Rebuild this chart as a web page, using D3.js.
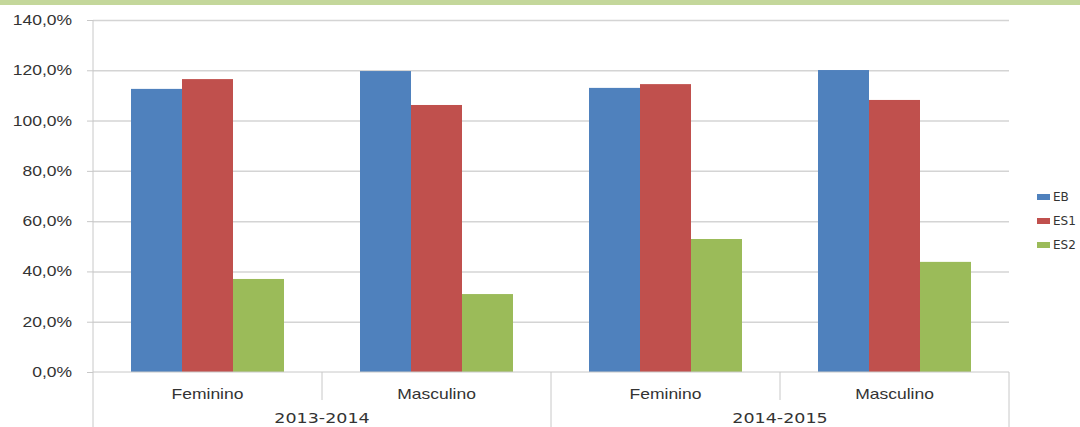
<!DOCTYPE html>
<html>
<head>
<meta charset="utf-8">
<script src="https://cdn.jsdelivr.net/npm/d3@7"></script>
<style>
	body { margin: 0; background: #fff; }
	svg { display: block; font-family: "DejaVu Sans", sans-serif; }
	.axis path, .axis line { stroke: #c8c8c8; }
	.grid line { stroke: #d4d4d4; stroke-width: 1.5; }
	.grid path { display: none; }
	text { fill: #333; }
</style>
</head>
<body>
<svg id="chart" width="1080" height="427"></svg>
<script>
const years = ["2013-2014", "2014-2015"];
const sexes = ["Feminino", "Masculino"];
const series = ["EB", "ES1", "ES2"];
const colors = ["#4f81bd", "#c0504d", "#9bbb59"];

// values in %, one per (year, sex), in order of years x sexes
const EB = [112.6, 119.7, 113.0, 120.1];
const ES1 = [116.5, 106.2, 114.5, 108.2];
const ES2 = [37.0, 31.0, 52.9, 43.8];

const yTicks = [0, 20, 40, 60, 80, 100, 120, 140];

const stretch = 1.25;
const fs = "14px";
const fmt = v => d3.format(".1f")(v).replace(".", ",") + "%";

const svg = d3.select("#chart");
const margin = {top: 20, right: 71, bottom: 55, left: 93};
const width = 1080 - margin.left - margin.right;
const height = 427 - margin.top - margin.bottom;

// green strip across the top
svg.append("rect")
	.attr("x", 0).attr("y", 0)
	.attr("width", 1080).attr("height", 5)
	.attr("fill", "#c4d79b");

const g = svg.append("g")
	.attr("transform", `translate(${margin.left},${margin.top})`);

const cats = [];
years.forEach(y => sexes.forEach(s => cats.push(y + "|" + s)));

const data = cats.map((c, i) => ({
	cat: c,
	values: [EB[i], ES1[i], ES2[i]]
}));

const x0 = d3.scaleBand().domain(cats).range([0, width]);
const x1 = d3.scaleBand().domain(series).range([38, x0.bandwidth() - 38]);
const y = d3.scaleLinear().domain([0, 140]).range([height, 0]);

// gridlines
g.append("g")
	.attr("class", "grid")
	.call(d3.axisLeft(y).tickValues(yTicks.slice(1)).tickSize(-width).tickFormat(""));

// bars
const groups = g.selectAll(".grp")
	.data(data)
	.enter().append("g")
	.attr("class", "grp")
	.attr("transform", d => `translate(${x0(d.cat)},0)`);

groups.selectAll("rect")
	.data(d => d.values.map((v, i) => ({key: series[i], v, i})))
	.enter().append("rect")
	.attr("x", d => x1(d.key))
	.attr("width", x1.bandwidth())
	.attr("y", d => y(d.v))
	.attr("height", d => y(0) - y(d.v))
	.attr("fill", d => colors[d.i]);

// y axis
const gy = g.append("g")
	.attr("class", "axis")
	.call(d3.axisLeft(y).tickValues(yTicks).tickSizeOuter(0).tickSize(6).tickFormat(fmt));
gy.select(".domain").attr("d", `M0,0V${height + 55}`);
gy.selectAll("text")
	.style("font-size", fs)
	.attr("x", -21 / stretch)
	.attr("transform", `scale(${stretch},1)`);

// baseline
g.append("line")
	.attr("x1", 0).attr("x2", width)
	.attr("y1", height).attr("y2", height)
	.attr("stroke", "#c8c8c8");

// category labels
const gx = g.append("g")
	.attr("class", "axis")
	.attr("transform", `translate(0,${height})`)
	.call(d3.axisBottom(x0).tickSize(0).tickPadding(17).tickFormat(d => d.split("|")[1]));
gx.select(".domain").remove();
gx.selectAll("text")
	.style("font-size", fs)
	.attr("transform", `scale(${stretch},1)`);

// separators between categories
cats.forEach((c, i) => {
	if (i == 0) return;
	const yearBreak = i % sexes.length == 0;
	g.append("line")
		.attr("x1", x0(c)).attr("x2", x0(c))
		.attr("y1", height).attr("y2", yearBreak ? height + 55 : height + 28)
		.attr("stroke", "#c8c8c8");
});
g.append("line")
	.attr("x1", width).attr("x2", width)
	.attr("y1", height).attr("y2", height + 55)
	.attr("stroke", "#c8c8c8");

// year labels
const xYear = d3.scaleBand().domain(years).range([0, width]);
g.selectAll(".year")
	.data(years)
	.enter().append("text")
	.attr("class", "year")
	.attr("transform", d => `translate(${xYear(d) + xYear.bandwidth() / 2},${height + 51}) scale(${stretch},1)`)
	.attr("text-anchor", "middle")
	.style("font-size", fs)
	.text(d => d);

// legend
const legend = svg.append("g")
	.attr("transform", "translate(1037,197)");
const li = legend.selectAll("g")
	.data(series)
	.enter().append("g")
	.attr("transform", (d, i) => `translate(0,${i * 24})`);
li.append("rect")
	.attr("x", 0).attr("y", -3)
	.attr("width", 13).attr("height", 6)
	.attr("fill", (d, i) => colors[i]);
li.append("text")
	.attr("x", 16)
	.attr("dy", "0.36em")
	.style("font-size", "12px")
	.text(d => d);
</script>
</body>
</html>
